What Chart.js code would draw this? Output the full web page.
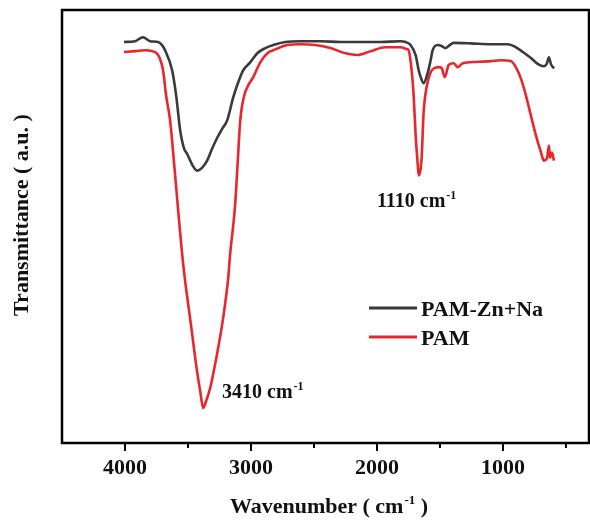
<!DOCTYPE html>
<html><head><meta charset="utf-8">
<script src="https://cdn.jsdelivr.net/npm/chart.js@4.4.0/dist/chart.umd.min.js"></script>
<style>html,body{margin:0;padding:0;background:#fff;}#wrap{width:590px;height:520px;}</style>
</head><body><div id="wrap"><canvas id="c" width="590" height="520"></canvas></div>
<script>
// ---- data ----
const X_TICKS = [500, 1000, 1500, 2000, 2500, 3000, 3500, 4000];
const SERIES_LABELS = ['PAM-Zn+Na', 'PAM'];
const SERIES_COLORS = ['#3a3a3a', '#e8262c'];
const WN_ZN = [4008,3920,3857,3801,3737,3706,3682,3626,3594,3562,3531,3507,3467,3427,3387,3348,3308,3268,3228,3189,3141,3101,3061,3006,2950,2886,2823,2727,2608,2449,2290,2131,1971,1812,1773,1733,1693,1669,1653,1630,1598,1574,1558,1518,1487,1455,1423,1391,1256,1096,961,898,842,778,722,675,651,635,619,595];
const T_ZN = [92.6,92.8,93.7,92.8,92.6,91.9,90.7,86.1,80.3,72.2,68.0,66.8,64.3,62.9,63.6,65.2,68.0,70.5,72.6,74.5,79.8,83.3,86.1,87.9,90.0,91.2,91.9,92.6,92.8,92.8,92.6,92.6,92.6,92.8,92.6,91.9,89.6,86.1,84.5,83.1,85.4,88.4,90.7,91.9,91.7,91.2,91.9,92.4,92.3,92.1,92.1,91.4,90.3,88.9,87.5,87.0,87.7,89.1,87.5,86.5];
const WN_PAM = [4008,3920,3841,3785,3737,3698,3674,3642,3602,3578,3547,3523,3499,3467,3443,3419,3403,3380,3356,3324,3292,3260,3228,3205,3181,3165,3141,3125,3109,3085,3053,3022,2982,2926,2870,2807,2711,2608,2489,2369,2250,2154,2051,1932,1812,1765,1749,1725,1709,1693,1677,1669,1653,1645,1630,1606,1574,1542,1510,1487,1462,1431,1391,1359,1319,1216,1096,1017,938,898,858,818,778,738,698,675,651,635,627,611,595];
const T_PAM = [90.3,90.5,90.7,90.5,89.6,86.1,80.3,74.5,61.8,53.7,43.8,37.5,32.2,25.2,19.7,14.8,12.0,8.1,9.7,12.7,17.1,22.0,27.5,32.2,38.0,43.8,50.2,55.3,63.0,74.5,80.3,82.6,84.5,87.9,90.0,90.9,91.9,92.1,91.9,91.2,90.0,89.6,90.5,91.4,91.4,91.0,90.7,86.1,80.3,71.1,64.6,61.8,63.4,66.0,76.2,82.2,85.6,86.6,86.8,86.6,84.5,87.3,87.7,86.8,87.7,88.0,88.2,88.4,88.2,86.8,84.2,80.3,75.6,71.0,67.1,65.2,65.7,68.7,65.9,67.1,65.2];
const PEAK_LABELS = [
  { text: '3410 cm', sup: '-1', wn: 3230, t: 10.4 },
  { text: '1110 cm', sup: '-1', wn: 2000, t: 54.4 }
];
const X_TITLE = ['Wavenumber ( cm', '-1', ' )'];
const Y_TITLE = 'Transmittance ( a.u. )';

const FONT = '"Liberation Serif", "Times New Roman", serif';
const INK = '#111';

function supText(ctx, x, y, main, sup, size, supSize, rise, suffix) {
  ctx.font = 'bold ' + size + 'px ' + FONT;
  ctx.fillText(main, x, y);
  let w = ctx.measureText(main).width;
  ctx.font = 'bold ' + supSize + 'px ' + FONT;
  ctx.fillText(sup, x + w + 1, y - rise);
  w += ctx.measureText(sup).width + 1;
  if (suffix) {
    ctx.font = 'bold ' + size + 'px ' + FONT;
    ctx.fillText(suffix, x + w, y);
  }
}
function supWidth(ctx, main, sup, size, supSize, suffix) {
  ctx.font = 'bold ' + size + 'px ' + FONT;
  let w = ctx.measureText(main).width + (suffix ? ctx.measureText(suffix).width : 0);
  ctx.font = 'bold ' + supSize + 'px ' + FONT;
  return w + ctx.measureText(sup).width + 1;
}

const decor = {
  id: 'decor',
  afterDatasetsDraw(chart) {
    const { ctx, chartArea: a, scales: { x, y } } = chart;
    ctx.save();
    // frame
    ctx.strokeStyle = '#000';
    ctx.lineWidth = 2.5;
    ctx.strokeRect(a.left, a.top, a.right - a.left, a.bottom - a.top);
    // tick marks
    ctx.lineWidth = 2;
    X_TICKS.forEach(v => {
      const px = x.getPixelForValue(v);
      const len = v % 1000 === 0 ? 8 : 5;
      ctx.beginPath();
      ctx.moveTo(px, a.bottom);
      ctx.lineTo(px, a.bottom + len);
      ctx.stroke();
    });
    ctx.fillStyle = INK;
    ctx.textAlign = 'left';
    ctx.textBaseline = 'alphabetic';
    // peak labels
    PEAK_LABELS.forEach(p => {
      supText(ctx, x.getPixelForValue(p.wn), y.getPixelForValue(p.t), p.text, p.sup, 20, 12, 8);
    });
    // legend
    chart.data.datasets.forEach((ds, i) => {
      const ly = 308 + i * 29;
      ctx.strokeStyle = ds.borderColor;
      ctx.lineWidth = 3;
      ctx.beginPath();
      ctx.moveTo(369, ly);
      ctx.lineTo(417, ly);
      ctx.stroke();
      ctx.fillStyle = INK;
      ctx.font = 'bold 22px ' + FONT;
      ctx.fillText(ds.label, 421, ly + 8);
    });
    // x title
    const w = supWidth(ctx, X_TITLE[0], X_TITLE[1], 22, 13, X_TITLE[2]);
    supText(ctx, 329 - w / 2, 513, X_TITLE[0], X_TITLE[1], 22, 13, 9, X_TITLE[2]);
    // y title
    ctx.translate(22, 215);
    ctx.rotate(-Math.PI / 2);
    ctx.textAlign = 'center';
    ctx.textBaseline = 'middle';
    ctx.font = 'bold 22px ' + FONT;
    ctx.fillText(Y_TITLE, 0, 0);
    ctx.restore();
  }
};

new Chart(document.getElementById('c'), {
  type: 'line',
  data: {
    datasets: [
      { label: SERIES_LABELS[0], data: WN_ZN.map((w, i) => ({ x: w, y: T_ZN[i] })), borderColor: SERIES_COLORS[0] },
      { label: SERIES_LABELS[1], data: WN_PAM.map((w, i) => ({ x: w, y: T_PAM[i] })), borderColor: SERIES_COLORS[1] }
    ].map(d => Object.assign(d, { borderWidth: 2.6, pointRadius: 0, fill: false, cubicInterpolationMode: 'monotone' }))
  },
  options: {
    responsive: false,
    animation: false,
    devicePixelRatio: 1,
    layout: { padding: { left: 62, right: 1, top: 10, bottom: 26.6 } },
    plugins: { legend: { display: false }, tooltip: { enabled: false } },
    scales: {
      x: {
        type: 'linear', reverse: true, min: 317, max: 4500,
        grid: { display: false, drawTicks: false }, border: { display: false },
        afterBuildTicks: s => { s.ticks = X_TICKS.map(v => ({ value: v })); },
        ticks: {
          autoSkip: false, maxRotation: 0, padding: 12, color: INK,
          font: { family: FONT, size: 22, weight: 'bold' },
          callback: v => (v % 1000 === 0 ? String(v) : '')
        }
      },
      y: { display: false, min: 0, max: 100 }
    }
  },
  plugins: [decor]
});
</script>
</body></html>
